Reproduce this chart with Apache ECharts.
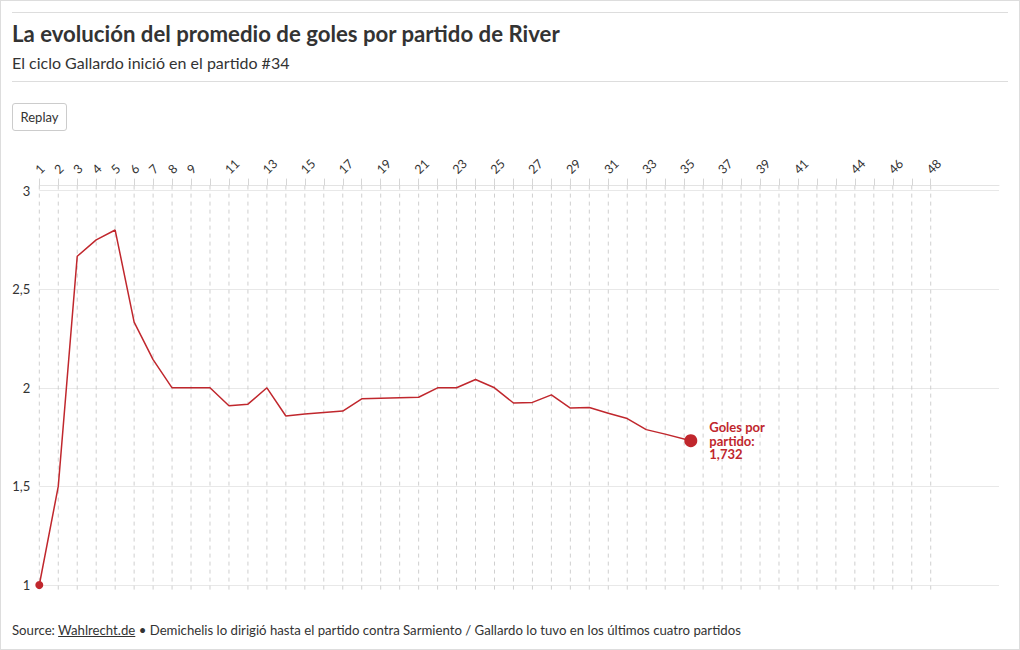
<!DOCTYPE html>
<html><head><meta charset="utf-8">
<script src="https://cdn.jsdelivr.net/npm/echarts@6/dist/echarts.min.js"></script>
<style>
html,body{margin:0;padding:0;background:#fff;}
body{width:1020px;height:650px;position:relative;overflow:hidden;font-family:Lato,"Noto Sans",sans-serif;color:#333;}
#frame{position:absolute;left:0;top:0;width:1018px;height:648px;border:1px solid #ddd;}
#topline{position:absolute;left:12px;top:12px;width:996px;height:1px;background:#ddd;}
#title{position:absolute;left:12px;top:20px;font-size:22.2px;font-weight:bold;color:#333;white-space:nowrap;}
#sub{position:absolute;left:12px;top:53px;font-size:16px;color:#333;white-space:nowrap;}
#sep{position:absolute;left:12px;top:81px;width:996px;height:1px;background:#ddd;}
#replay{position:absolute;left:12px;top:103px;width:53px;height:26px;border:1px solid #ccc;border-radius:3px;font-size:13px;line-height:26px;text-align:center;background:#fff;color:#333;}
#foot{position:absolute;left:12px;top:622px;font-size:13.2px;color:#333;white-space:nowrap;}
#foot u{text-decoration:underline;}
#chart{position:absolute;left:0;top:0;width:1020px;height:650px;}
</style></head>
<body>
<div id="frame"></div>
<div id="topline"></div>
<div id="title">La evolución del promedio de goles por partido de River</div>
<div id="sub">El ciclo Gallardo inició en el partido #34</div>
<div id="sep"></div>
<div id="chart"></div>
<div id="replay">Replay</div>
<div id="foot">Source: <u>Wahlrecht.de</u> • Demichelis lo dirigió hasta el partido contra Sarmiento / Gallardo lo tuvo en los últimos cuatro partidos</div>
<script>
// partido number for each point (last point drawn slightly right of 35 in the original)
const partidos = [1,2,3,4,5,6,7,8,9,10,11,12,13,14,15,16,17,18,19,20,21,22,23,24,25,26,27,28,29,30,31,32,33,34,35.35];
const promedio = [1,1.5,2.667,2.75,2.8,2.333,2.143,2,2,2,1.909,1.917,2,1.857,1.867,1.875,1.882,1.944,1.947,1.95,1.952,2,2,2.042,2,1.923,1.926,1.964,1.897,1.9,1.871,1.844,1.788,1.765,1.732];
const gridPartidos = [];
for (let i = 1; i <= 48; i++) gridPartidos.push(i);
const xLabels = [1,2,3,4,5,6,7,8,9,11,13,15,17,19,21,23,25,27,29,31,33,35,37,39,41,44,46,48];
const yTicks = [1,1.5,2,2.5,3];
const endLabel = 'Goles por\npartido:\n';

const red = '#c0272d';
const chart = echarts.init(document.getElementById('chart'), null, {renderer:'svg'});
const lineData = partidos.map((x,i)=>[x, promedio[i]]);
const last = lineData.length - 1;
const yTop = yTicks[yTicks.length-1], yBot = yTicks[0];

chart.setOption({
  animation:false,
  grid:{left:39.3, right:21, top:190.6, bottom:65},
  xAxis:{
    type:'value', position:'top', min:1, max:51.6, offset:5,
    axisLine:{show:true, lineStyle:{color:'#e3e3e3', width:1}},
    axisTick:{show:true, length:7, customValues:gridPartidos, lineStyle:{color:'#d6d6d6'}},
    axisLabel:{show:false},
    splitLine:{show:false}
  },
  yAxis:{
    type:'value', min:yBot, max:yTop, interval:0.5,
    axisLine:{show:false}, axisTick:{show:false},
    axisLabel:{margin:9, fontSize:13, color:'#333', fontFamily:'Lato',
      formatter:v=>String(v).replace('.',',')},
    splitLine:{show:true, lineStyle:{color:'#e8e8e8', width:1}}
  },
  series:[
    {
      type:'custom', silent:true, clip:false, z:1,
      data:gridPartidos.map(p=>[p]),
      encode:{x:0},
      renderItem:(params, api)=>{
        const top = api.coord([api.value(0), yTop]);
        const bot = api.coord([api.value(0), yBot]);
        return {type:'line', shape:{x1:top[0], y1:top[1]-5, x2:bot[0], y2:bot[1]+6},
          style:{stroke:'#cfcfcf', lineWidth:1, lineDash:[4,4]}};
      }
    },
    {
      type:'custom', silent:true, clip:false, z:2,
      data:xLabels.map(p=>[p]),
      encode:{x:0},
      renderItem:(params, api)=>{
        const p = api.coord([api.value(0), yTop]);
        return {type:'text', x:p[0]-2, y:p[1]-19, rotation:Math.PI/4,
          style:{text:String(api.value(0)), align:'left', verticalAlign:'middle',
            fontSize:12.5, fontFamily:'Lato', fill:'#333'}};
      }
    },
    {
      type:'line', z:3,
      data:lineData.map((d,i)=>{
        if (i===0) return {value:d, symbol:'circle', symbolSize:8, itemStyle:{color:red}};
        if (i===last) return {value:d, symbol:'circle', symbolSize:13, itemStyle:{color:red},
          label:{show:true, position:'right', distance:12, formatter:endLabel + String(d[1]).replace('.',','),
            color:red, fontWeight:'bold', fontSize:13, lineHeight:13.5, fontFamily:'Lato', align:'left'}};
        return {value:d, symbol:'none'};
      }),
      showSymbol:true,
      lineStyle:{color:red, width:1.5},
      itemStyle:{color:red}
    }
  ]
});
</script>
</body></html>
